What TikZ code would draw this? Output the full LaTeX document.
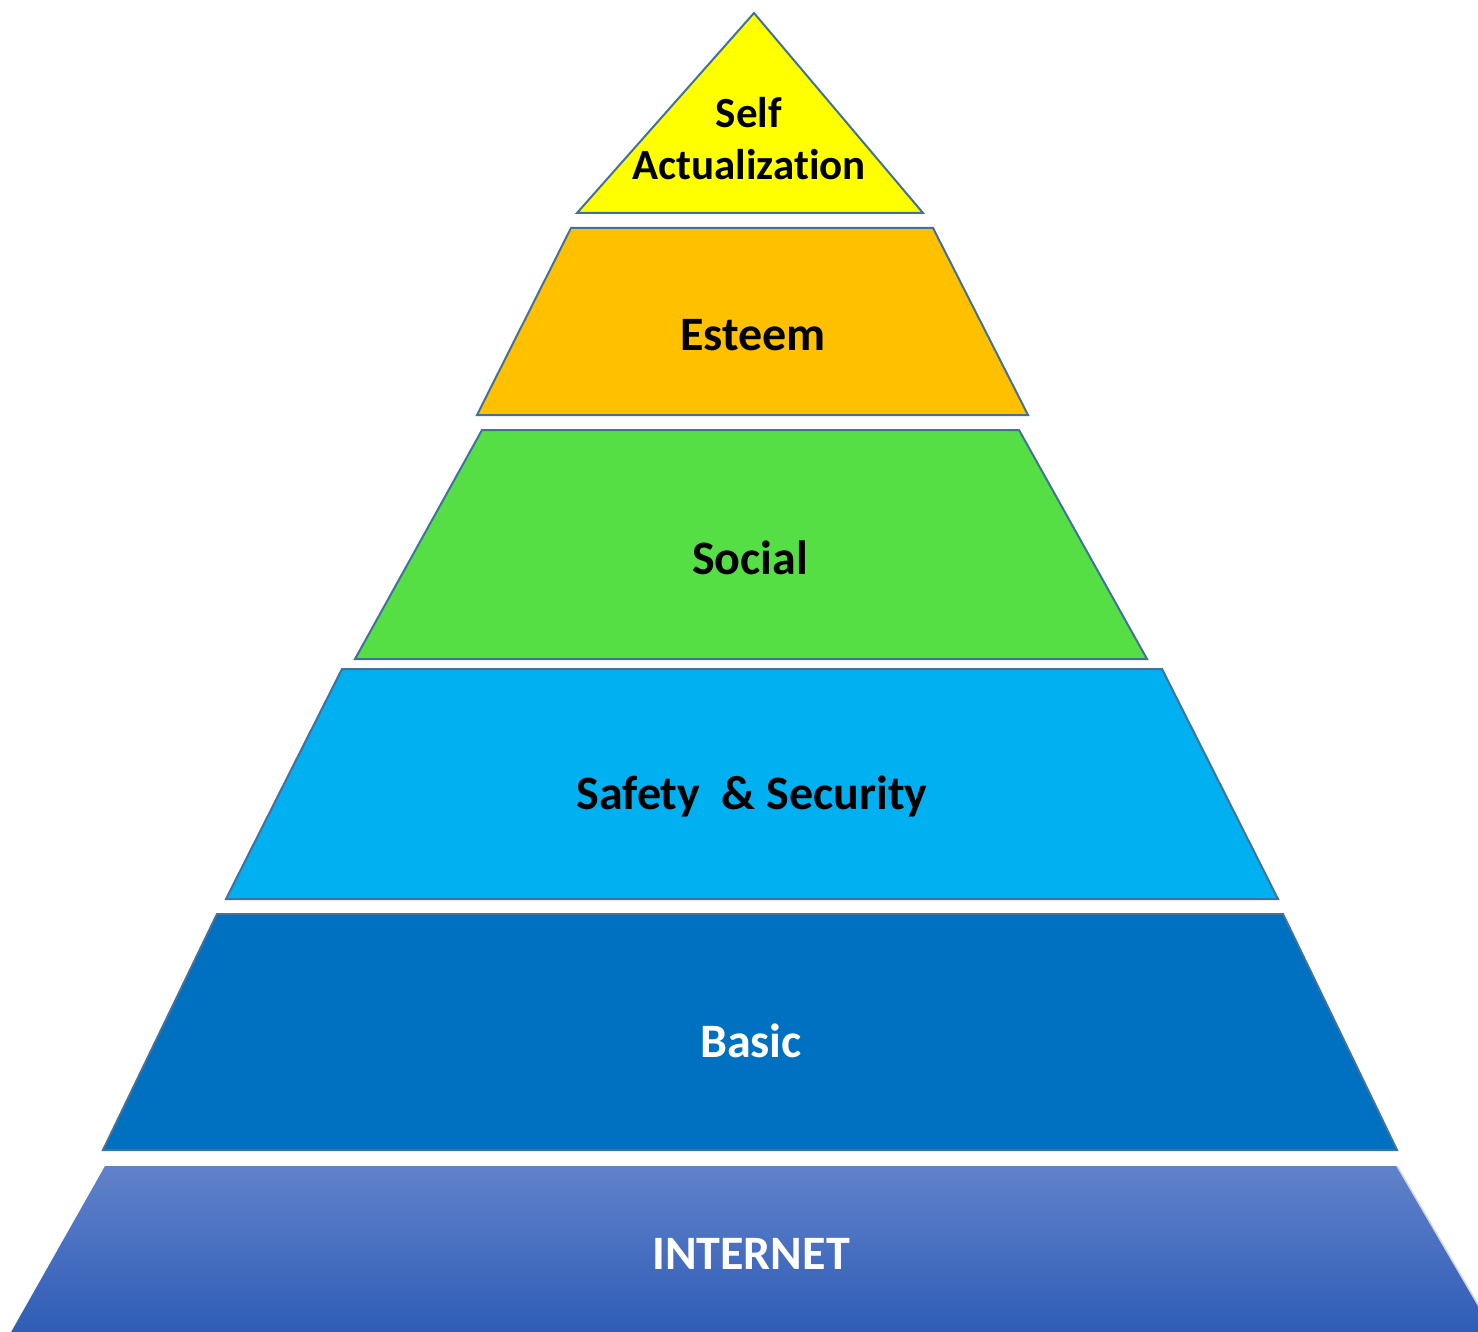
\documentclass[tikz,border=0pt]{standalone}
\usepackage{fontspec}
\setmainfont{Carlito}[RawFeature={-liga;-dlig}]
\definecolor{edge}{HTML}{41719C}
\definecolor{cself}{HTML}{FFFF00}
\definecolor{cesteem}{HTML}{FFC000}
\definecolor{csocial}{HTML}{55DF45}
\definecolor{csafety}{HTML}{00B0F0}
\definecolor{cbasic}{HTML}{0070C0}
\definecolor{cnettop}{HTML}{6182CB}
\definecolor{cnetbot}{HTML}{2E5CB6}
\tikzset{
  level/.style={draw=edge, line width=2pt, line join=miter},
  lbl/.style={font=\fontsize{48}{52}\selectfont\bfseries, text=black, align=center, inner sep=0pt},
  lblw/.style={lbl, text=white},
}
\begin{document}
\begin{tikzpicture}[x=1pt,y=-1pt]
\useasboundingbox (0,0) rectangle (1478,1332);
\fill[white] (0,0) rectangle (1478,1332);
% levels
\draw[level, fill=cself] (754,13) -- (923,213) -- (577,213) -- cycle;
\draw[level, fill=cesteem] (571,228) -- (933,228) -- (1028,415) -- (477,415) -- cycle;
\draw[level, fill=csocial] (482,430) -- (1019,430) -- (1147,659) -- (355,659) -- cycle;
\draw[level, fill=csafety] (342,669) -- (1162,669) -- (1278,899) -- (226,899) -- cycle;
\draw[level, fill=cbasic] (217,914) -- (1283,914) -- (1397,1150) -- (103,1150) -- cycle;
\begin{scope}
\clip (0,0) rectangle (1478,1332);
\fill[black!35, opacity=0.45] (108,1166) -- (1398,1166) -- (1496,1334) -- (14,1334) -- cycle;
\shade[top color=cnettop, bottom color=cnetbot] (105,1166) -- (1396,1166) -- (1494,1334) -- (10,1334) -- cycle;
\end{scope}
% labels
\node[lbl, font=\fontsize{43}{52}\selectfont\bfseries] (self) at (749,139) {Self\\Actualization};
\node[lbl] (esteem) at (753,335) {Esteem};
\node[lbl] (social) at (750,558) {Social};
\node[lbl] (safety) at (752,796) {Safety\ \ \& Security};
\node[lblw] (basic) at (751,1041) {Basic};
\node[lblw] (internet) at (751,1254) {INTERNET};
\end{tikzpicture}
\end{document}
